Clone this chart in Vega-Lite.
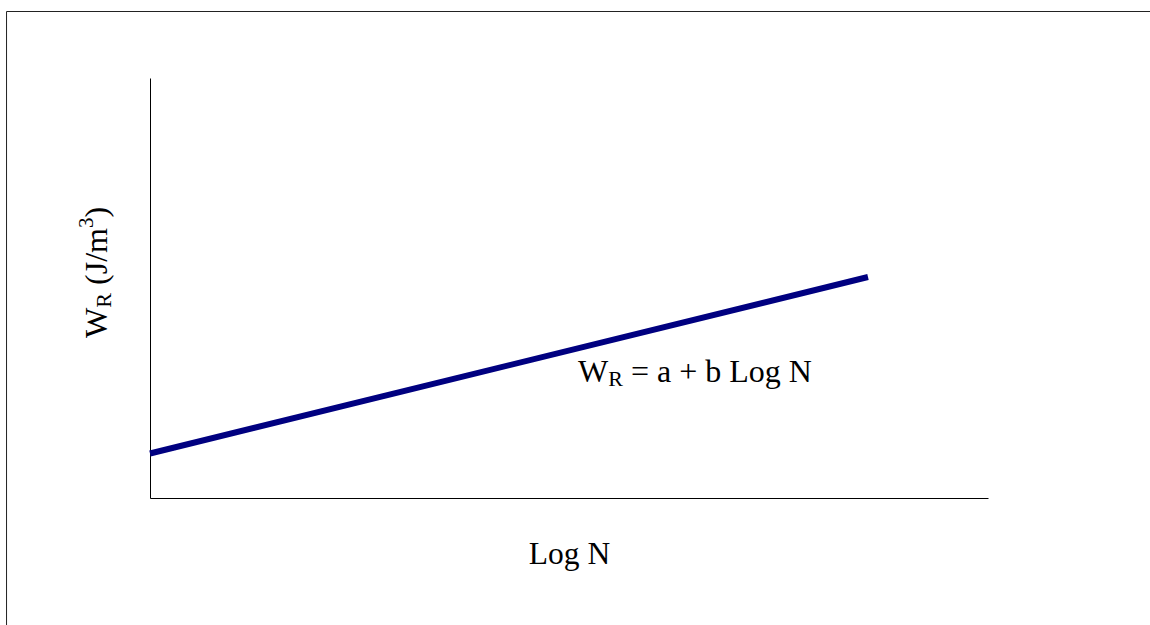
{
  "$schema": "https://vega.github.io/schema/vega-lite/v6.json",
  "autosize": {"type": "none"},
  "width": 838,
  "height": 420,
  "padding": {"left": 150, "top": 78, "right": 162, "bottom": 127},
  "background": "white",
  "data": {"values": [{"anchor": "note"}]},
  "config": {
    "view": {"stroke": null},
    "axis": {"labels": false, "ticks": false, "grid": false, "domainColor": "#000000", "domainWidth": 1,
             "titleFont": "Liberation Serif", "titleFontSize": 31.5, "titleFontWeight": "normal", "titleColor": "#000000"},
    "text": {"font": "Liberation Serif", "color": "#000000"}
  },
  "layer": [
    {
      "data": {"values": [{"logN": 0, "WR": 1.06}, {"logN": 8.568, "WR": 5.262}]},
      "mark": {"type": "line", "color": "#000080", "strokeWidth": 6, "strokeCap": "butt"},
      "encoding": {
        "x": {"field": "logN", "type": "quantitative", "scale": {"domain": [0, 10], "nice": false, "zero": false},
              "axis": {"title": "Log N", "titleBaseline": "alphabetic", "titlePadding": 65}},
        "y": {"field": "WR", "type": "quantitative", "scale": {"domain": [0, 10], "nice": false, "zero": false},
              "axis": {"title": null}}
      }
    },
    {
      "mark": {"type": "rule", "color": "#222222", "strokeWidth": 1},
      "encoding": {
        "x": {"datum": -1.712, "type": "quantitative", "title": null},
        "x2": {"datum": 12.5},
        "y": {"datum": 11.583, "type": "quantitative", "title": null}
      }
    },
    {
      "mark": {"type": "rule", "color": "#222222", "strokeWidth": 1},
      "encoding": {
        "x": {"datum": -1.712, "type": "quantitative", "title": null},
        "y": {"datum": -3.5, "type": "quantitative", "title": null},
        "y2": {"datum": 11.583}
      }
    },
    {
      "mark": {"type": "text", "text": "W", "fontSize": 32, "align": "left", "baseline": "alphabetic"},
      "encoding": {
        "x": {"datum": 5.107, "type": "quantitative", "title": null},
        "y": {"datum": 2.762, "type": "quantitative", "title": null}
      }
    },
    {
      "mark": {"type": "text", "text": "R", "fontSize": 22, "align": "left", "baseline": "alphabetic", "dx": 30.2, "dy": 4.3},
      "encoding": {
        "x": {"datum": 5.107, "type": "quantitative", "title": null},
        "y": {"datum": 2.762, "type": "quantitative", "title": null}
      }
    },
    {
      "mark": {"type": "text", "text": "= a + b Log N", "fontSize": 32, "align": "left", "baseline": "alphabetic", "dx": 53},
      "encoding": {
        "x": {"datum": 5.107, "type": "quantitative", "title": null},
        "y": {"datum": 2.762, "type": "quantitative", "title": null}
      }
    },
    {
      "mark": {"type": "text", "text": "W", "fontSize": 32, "align": "left", "baseline": "alphabetic", "angle": 270},
      "encoding": {
        "x": {"datum": -0.513, "type": "quantitative", "title": null},
        "y": {"datum": 3.81, "type": "quantitative", "title": null}
      }
    },
    {
      "mark": {"type": "text", "text": "R", "fontSize": 22, "align": "left", "baseline": "alphabetic", "angle": 270, "dx": 30.2, "dy": 4.3},
      "encoding": {
        "x": {"datum": -0.513, "type": "quantitative", "title": null},
        "y": {"datum": 3.81, "type": "quantitative", "title": null}
      }
    },
    {
      "mark": {"type": "text", "text": "(J/m", "fontSize": 32, "align": "left", "baseline": "alphabetic", "angle": 270, "dx": 53},
      "encoding": {
        "x": {"datum": -0.513, "type": "quantitative", "title": null},
        "y": {"datum": 3.81, "type": "quantitative", "title": null}
      }
    },
    {
      "mark": {"type": "text", "text": "3", "fontSize": 21, "align": "left", "baseline": "alphabetic", "angle": 270, "dx": 110, "dy": -14},
      "encoding": {
        "x": {"datum": -0.513, "type": "quantitative", "title": null},
        "y": {"datum": 3.81, "type": "quantitative", "title": null}
      }
    },
    {
      "mark": {"type": "text", "text": ")", "fontSize": 32, "align": "left", "baseline": "alphabetic", "angle": 270, "dx": 120.5},
      "encoding": {
        "x": {"datum": -0.513, "type": "quantitative", "title": null},
        "y": {"datum": 3.81, "type": "quantitative", "title": null}
      }
    }
  ]
}
